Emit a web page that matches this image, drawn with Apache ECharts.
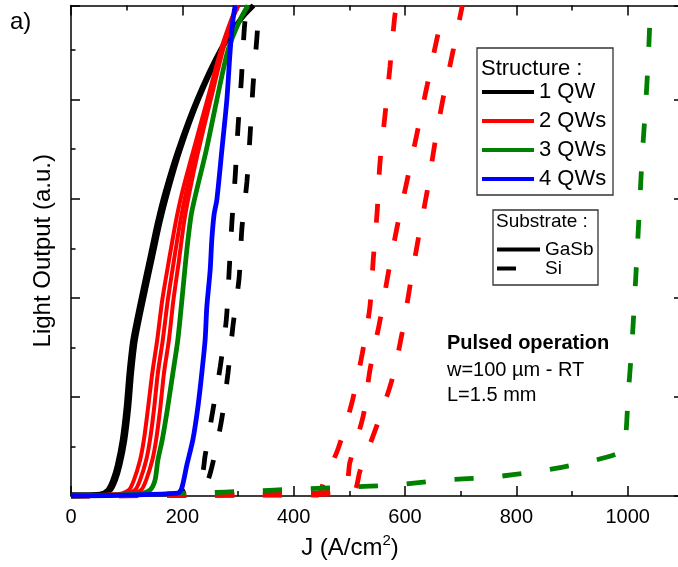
<!DOCTYPE html>
<html><head><meta charset="utf-8">
<script src="https://cdn.jsdelivr.net/npm/echarts@6/dist/echarts.min.js"></script>
<style>html,body{margin:0;padding:0;background:#fff}#c{width:678px;height:567px}</style>
</head><body><div id="c"></div>
<script>
// ---- data (J in A/cm2, light output in a.u.) ----
const X_TICKS = [0, 200, 400, 600, 800, 1000];
const STRUCTURES = ['1 QW', '2 QWs', '3 QWs', '4 QWs'];
const SUBSTRATES = ['GaSb', 'Si'];

// GaSb substrate (solid)
const J_1QW_GASB_A = [0, 52, 66, 75, 83, 92, 99, 104, 111, 129, 142, 155, 169, 192, 226, 268, 304, 327];
const L_1QW_GASB_A = [0.01, 0.02, 0.06, 0.16, 0.31, 0.57, 0.90, 1.24, 1.58, 2.08, 2.42, 2.76, 3.07, 3.49, 4.0, 4.5, 4.81, 4.95];
const J_1QW_GASB_B = [0, 55, 71, 80, 88, 97, 104, 109, 116, 134, 147, 160, 174, 196, 229, 270, 305, 328];
const L_1QW_GASB_B = [0.01, 0.02, 0.06, 0.16, 0.31, 0.57, 0.90, 1.24, 1.58, 2.08, 2.42, 2.76, 3.07, 3.49, 4.0, 4.5, 4.81, 4.95];

const L_2QW_GASB = [0, 0.02, 0.06, 0.16, 0.36, 0.57, 0.87, 1.24, 1.58, 1.98, 2.38, 2.76, 3.07, 3.49, 4.0, 4.5, 4.81, 4.95];
const J_2QW_GASB_A = [0, 86, 104, 113, 124, 131, 138, 146, 155, 164, 176, 188, 200, 220, 245, 269, 288, 299];
const J_2QW_GASB_B = [0, 97, 115, 124, 135, 142, 149, 156, 165, 174, 185, 196, 207, 225, 248, 271, 289, 300];
const J_2QW_GASB_C = [0, 108, 126, 135, 146, 153, 160, 167, 176, 184, 194, 203, 213, 229, 251, 273, 290, 301];

const J_3QW_GASB = [0, 124, 142, 151, 156, 164, 173, 183, 192, 201, 208, 216, 225, 243, 262, 282, 304, 318];
const L_3QW_GASB = [0, 0.02, 0.06, 0.16, 0.36, 0.57, 0.87, 1.24, 1.58, 2.08, 2.48, 2.84, 3.07, 3.49, 4.0, 4.5, 4.81, 4.95];

const J_4QW_GASB = [0, 192, 199, 208, 219, 228, 235, 241, 244, 250, 253, 257, 262, 271, 280, 286, 291, 295];
const L_4QW_GASB = [0, 0.03, 0.08, 0.31, 0.57, 0.90, 1.24, 1.58, 1.91, 2.28, 2.59, 2.84, 2.99, 3.49, 4.0, 4.5, 4.81, 4.95];

// Si substrate (dashed)
const J_1QW_SI_A = [0, 187, 232, 241, 255, 268, 279, 284, 289, 295, 300, 306, 311, 315];
const L_1QW_SI_A = [0, 0.02, 0.16, 0.41, 0.87, 1.30, 1.78, 2.26, 2.76, 3.23, 3.72, 4.20, 4.69, 4.95];
const J_1QW_SI_B = [0, 205, 241, 252, 270, 282, 291, 302, 307, 316, 322, 327, 334, 338];
const L_1QW_SI_B = [0, 0.02, 0.11, 0.27, 0.75, 1.24, 1.72, 2.20, 2.70, 3.17, 3.67, 4.14, 4.63, 4.95];

const J_2QW_SI_A = [0, 300, 444, 453, 480, 505, 523, 537, 543, 550, 555, 564, 573, 582, 586];
const L_2QW_SI_A = [0, 0.01, 0.01, 0.13, 0.48, 0.95, 1.43, 1.91, 2.39, 2.87, 3.36, 3.84, 4.33, 4.86, 4.95];
const J_2QW_SI_B = [0, 300, 489, 501, 525, 537, 555, 570, 586, 604, 622, 640, 658, 672];
const L_2QW_SI_B = [0, 0.01, 0.06, 0.34, 0.81, 1.27, 1.77, 2.25, 2.72, 3.19, 3.67, 4.15, 4.63, 4.95];
const J_2QW_SI_C = [0, 300, 505, 519, 550, 577, 595, 609, 624, 640, 654, 669, 687, 703];
const L_2QW_SI_C = [0, 0.01, 0.03, 0.25, 0.72, 1.18, 1.65, 2.12, 2.60, 3.08, 3.57, 4.03, 4.51, 4.95];

const J_3QW_SI = [0, 232, 322, 408, 496, 580, 669, 755, 841, 926, 978, 990, 996, 1001, 1008, 1017, 1026, 1032, 1037, 1041];
const L_3QW_SI = [0, 0.03, 0.05, 0.07, 0.09, 0.11, 0.16, 0.19, 0.25, 0.34, 0.42, 0.46, 0.57, 1.02, 1.56, 2.46, 3.42, 3.92, 4.41, 4.95];

// ---- chart ----
const FONT = 'Liberation Sans, Arial, sans-serif';
const pairs = (j, l) => j.map((x, i) => [x, l[i]]);
const DASH = [19, 29];

function line(name, j, l, color, dashed, width) {
  return {
    name: name, type: 'line', data: pairs(j, l), symbol: 'none', smooth: 0.25,
    z: dashed ? 1 : 3,
    lineStyle: { color: color, width: width || 4.8, type: dashed ? DASH : 'solid' },
    itemStyle: { color: color }
  };
}

const series = [
  line('1 QW', J_1QW_GASB_A, L_1QW_GASB_A, '#000000', false),
  line('1 QW', J_1QW_GASB_B, L_1QW_GASB_B, '#000000', false),
  line('2 QWs', J_2QW_GASB_A, L_2QW_GASB, '#ff0000', false, 4),
  line('2 QWs', J_2QW_GASB_B, L_2QW_GASB, '#ff0000', false, 4),
  line('2 QWs', J_2QW_GASB_C, L_2QW_GASB, '#ff0000', false, 4),
  line('3 QWs', J_3QW_GASB, L_3QW_GASB, '#008000', false),
  line('4 QWs', J_4QW_GASB, L_4QW_GASB, '#0000ff', false),
  line('1 QW', J_1QW_SI_A, L_1QW_SI_A, '#000000', true),
  line('1 QW', J_1QW_SI_B, L_1QW_SI_B, '#000000', true),
  line('2 QWs', J_2QW_SI_A, L_2QW_SI_A, '#ff0000', true),
  line('2 QWs', J_2QW_SI_B, L_2QW_SI_B, '#ff0000', true),
  line('2 QWs', J_2QW_SI_C, L_2QW_SI_C, '#ff0000', true),
  line('3 QWs', J_3QW_SI, L_3QW_SI, '#008000', true),
  { name: SUBSTRATES[0], type: 'line', data: [], symbol: 'none', lineStyle: { color: '#000', width: 4, type: 'solid' }, itemStyle: { color: '#000' } },
  { name: SUBSTRATES[1], type: 'line', data: [], symbol: 'none', lineStyle: { color: '#000', width: 4, type: DASH }, itemStyle: { color: '#000' } }
];
series[6].z = 4;

const tickStyle = { color: '#000', width: 1.5 };
const chart = echarts.init(document.getElementById('c'), null, { renderer: 'canvas' });
chart.setOption({
  animation: false,
  backgroundColor: '#ffffff',
  textStyle: { fontFamily: FONT },
  grid: { left: 71, top: 5.5, width: 668, height: 490.5, containLabel: false, outerBoundsMode: 'none' },
  xAxis: [
    {
      type: 'value', position: 'bottom', min: 0, max: 1200, interval: 200,
      name: 'J (A/cm{sup|2})', nameLocation: 'middle', nameGap: 37,
      nameTextStyle: { fontSize: 24, lineHeight: 30, color: '#000', fontFamily: FONT, padding: [0, 110, 0, 0],
        rich: { sup: { fontSize: 15, lineHeight: 15, color: '#000', fontFamily: FONT, verticalAlign: 'top' } } },
      axisLine: { show: true, onZero: false, lineStyle: tickStyle },
      axisTick: { show: true, inside: true, length: 10, lineStyle: tickStyle },
      minorTick: { show: true, splitNumber: 2, length: 5, lineStyle: tickStyle },
      axisLabel: { fontSize: 20, color: '#000', fontFamily: FONT, margin: 11,
        formatter: v => (X_TICKS.indexOf(v) >= 0 ? String(v) : '') },
      splitLine: { show: false }, minorSplitLine: { show: false }
    },
    {
      type: 'value', position: 'top', min: 0, max: 1200, interval: 200,
      axisLine: { show: true, onZero: false, lineStyle: tickStyle },
      axisTick: { show: true, inside: true, length: 10, lineStyle: tickStyle },
      minorTick: { show: true, splitNumber: 2, length: 5, lineStyle: tickStyle },
      axisLabel: { show: false }, splitLine: { show: false }
    }
  ],
  yAxis: [
    {
      type: 'value', position: 'left', min: 0, max: 4.95, interval: 1,
      name: 'Light Output (a.u.)', nameLocation: 'middle', nameGap: 16,
      nameTextStyle: { fontSize: 24, color: '#000', fontFamily: FONT },
      axisLine: { show: true, onZero: false, lineStyle: tickStyle },
      axisTick: { show: true, inside: true, length: 9, lineStyle: tickStyle },
      minorTick: { show: true, splitNumber: 2, length: 4.5, lineStyle: tickStyle },
      axisLabel: { show: false }, splitLine: { show: false }
    },
    {
      type: 'value', position: 'right', offset: -56, min: 0, max: 4.95, interval: 1,
      axisLine: { show: true, onZero: false, lineStyle: tickStyle },
      axisTick: { show: true, inside: true, length: 9, lineStyle: tickStyle },
      minorTick: { show: true, splitNumber: 2, length: 4.5, lineStyle: tickStyle },
      axisLabel: { show: false }, splitLine: { show: false }
    }
  ],
  legend: [
    {
      data: STRUCTURES, orient: 'vertical', left: 480, top: 81, padding: 0,
      itemWidth: 52, itemHeight: 14, itemGap: 7, selectedMode: false,
      itemStyle: { opacity: 0 }, lineStyle: { width: 4, type: 'solid', opacity: 1 },
      textStyle: { fontSize: 22, lineHeight: 22, color: '#000', fontFamily: FONT }
    },
    {
      data: SUBSTRATES, orient: 'vertical', left: 495, top: 240, padding: 0,
      itemWidth: 43, itemHeight: 14, itemGap: 0, selectedMode: false,
      itemStyle: { opacity: 0 }, lineStyle: { width: 4, opacity: 1 },
      textStyle: { fontSize: 19, lineHeight: 19, color: '#000', fontFamily: FONT }
    }
  ],
  graphic: [
    { type: 'rect', z: 0, shape: { x: 477, y: 48, width: 136, height: 147 }, style: { fill: 'none', stroke: '#333', lineWidth: 1.3 } },
    { type: 'text', x: 481, y: 69, style: { text: 'Structure :', font: '22px ' + FONT, fill: '#000', verticalAlign: 'middle' } },
    { type: 'rect', z: 0, shape: { x: 493, y: 210, width: 105, height: 75 }, style: { fill: 'none', stroke: '#333', lineWidth: 1.3 } },
    { type: 'text', x: 496, y: 222, style: { text: 'Substrate :', font: '19px ' + FONT, fill: '#000', verticalAlign: 'middle' } },
    { type: 'text', x: 447, y: 343, style: { text: 'Pulsed operation', font: 'bold 20px ' + FONT, fill: '#000', verticalAlign: 'middle' } },
    { type: 'text', x: 447, y: 370, style: { text: 'w=100 µm - RT', font: '20px ' + FONT, fill: '#000', verticalAlign: 'middle' } },
    { type: 'text', x: 447, y: 395, style: { text: 'L=1.5 mm', font: '20px ' + FONT, fill: '#000', verticalAlign: 'middle' } },
    { type: 'text', x: 10, y: 22, style: { text: 'a)', font: '24px ' + FONT, fill: '#000', verticalAlign: 'middle' } }
  ],
  series: series
});
</script></body></html>
